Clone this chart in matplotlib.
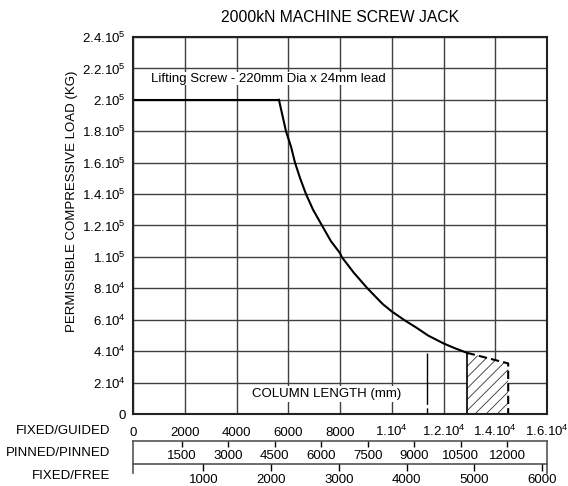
import matplotlib
matplotlib.use("Agg")
import matplotlib.pyplot as plt

plt.rcParams['font.family'] = ['Liberation Sans', 'DejaVu Sans']
plt.rcParams['mathtext.fontset'] = 'custom'
plt.rcParams['mathtext.rm'] = 'Liberation Sans'
plt.rcParams['mathtext.default'] = 'regular'
plt.rcParams['hatch.linewidth'] = 0.6
plt.rcParams['hatch.color'] = '#333333'

# Data
# flat screw limit then buckling curve (column length mm, load kg)
flat_x = [0, 5640]
flat_y = [200000, 200000]
curve_x = [5640, 5913, 6110, 6261, 6460, 6686, 6960, 7304, 7650, 8000, 8066,
           8530, 9060, 9650, 10000, 10512, 10950, 11400, 11992, 12420, 12900]
curve_y = [200000, 180000, 170000, 160000, 150000, 140000, 130000, 120000, 110000,
           102400, 100000, 90000, 80000, 70000, 65300, 59500, 55000, 50000, 45000, 42000, 39000]
# hatched zone beyond recommended length
hatch_x = [12900, 14500, 14500, 12900]
hatch_y = [39000, 32200, 0, 0]
mark_x = 11350
mark_top = 39000

y_ticks = [0, 20000, 40000, 60000, 80000, 100000, 120000, 140000, 160000, 180000, 200000, 220000, 240000]
y_labels = ['0', '2.10$^4$', '4.10$^4$', '6.10$^4$', '8.10$^4$', '1.10$^5$', '1.2.10$^5$',
            '1.4.10$^5$', '1.6.10$^5$', '1.8.10$^5$', '2.10$^5$', '2.2.10$^5$', '2.4.10$^5$']
guided_ticks = [0, 2000, 4000, 6000, 8000, 10000, 12000, 14000, 16000]
guided_labels = ['0', '2000', '4000', '6000', '8000', '1.10$^4$', '1.2.10$^4$', '1.4.10$^4$', '1.6.10$^4$']
pinned_ticks = [1500, 3000, 4500, 6000, 7500, 9000, 10500, 12000]
free_ticks = [1000, 2000, 3000, 4000, 5000, 6000]

W, H = 568, 486
fig = plt.figure(figsize=(W / 100, H / 100), dpi=100)

def box(l, t, r, b):
    return [l / W, 1 - b / H, (r - l) / W, (b - t) / H]

ax = fig.add_axes(box(133, 37, 547, 414))
ax.set_xlim(0, 16000)
ax.set_ylim(0, 240000)
ax.set_xticks(guided_ticks)
ax.set_xticklabels(guided_labels)
ax.set_yticks(y_ticks)
ax.set_yticklabels(y_labels)
ax.tick_params(length=0, labelsize=9.5)
ax.tick_params(axis='x', pad=15.5)
ax.tick_params(axis='y', pad=5)
for lab in ax.get_xticklabels():
    lab.set_va('baseline')
ax.grid(True, color='#404040', lw=1.0)
ax.set_axisbelow(True)
for s in ax.spines.values():
    s.set_linewidth(1.5)
    s.set_color('#222222')

ax.plot(flat_x, flat_y, color='black', lw=1.5)
ax.plot(curve_x, curve_y, color='black', lw=1.5)
ax.fill(hatch_x, hatch_y, facecolor='white', edgecolor='#333333', hatch='///', lw=0)
ax.plot(hatch_x[:3], hatch_y[:3], color='black', lw=1.5, ls=(0, (4, 2)))
ax.plot([hatch_x[0], hatch_x[3]], [hatch_y[0], hatch_y[3]], color='black', lw=1.2)
ax.plot([mark_x, mark_x], [mark_top, 0], color='black', lw=1.0, ls=(0, (37, 2.5)))

ax.text(700, 213500, 'Lifting Screw - 220mm Dia x 24mm lead', fontsize=9.5, va='center',
        bbox=dict(facecolor='white', edgecolor='none', pad=0.5))
ax.text(7480, 12500, 'COLUMN LENGTH (mm)', fontsize=9.5, ha='center', va='center',
        bbox=dict(facecolor='white', edgecolor='none', pad=1.5))

ax.set_title('2000kN MACHINE SCREW JACK', fontsize=11.3, pad=11)
fig.text(72 / W, 1 - 201 / H, 'PERMISSIBLE COMPRESSIVE LOAD (KG)', rotation=90,
         ha='center', va='center', fontsize=9.5)

# pinned/pinned scale
axp = fig.add_axes(box(133, 440.7, 547, 464))
axp.set_xlim(-73, 13288)
axp.set_ylim(0, 1)
axp.set_yticks([])
axp.xaxis.tick_top()
axp.set_xticks(pinned_ticks)
axp.tick_params(axis='x', direction='in', length=4, labeltop=False, width=1)
for v in pinned_ticks:
    axp.text(v, 0.36, str(v), ha='center', va='center', fontsize=9.5,
             transform=axp.get_xaxis_transform())
for s in axp.spines.values():
    s.set_color('#555555')
    s.set_linewidth(1.2)
axp.patch.set_alpha(0)

# fixed/free scale
axf = fig.add_axes(box(133, 464, 547, 473))
axf.set_xlim(-38, 6073)
axf.set_ylim(0, 1)
axf.set_yticks([])
axf.set_xticks(free_ticks)
axf.tick_params(axis='x', top=True, bottom=False, labelbottom=True, direction='in',
                length=5, width=1, pad=0.5, labelsize=9.5)
axf.spines['bottom'].set_visible(False)
axf.spines['top'].set_visible(False)
for s in axf.spines.values():
    s.set_color('#555555')
    s.set_linewidth(1.2)
axf.patch.set_alpha(0)

fig.text(110 / W, 1 - 431 / H, 'FIXED/GUIDED', ha='right', va='center', fontsize=9.5)
fig.text(110 / W, 1 - 453 / H, 'PINNED/PINNED', ha='right', va='center', fontsize=9.5)
fig.text(110 / W, 1 - 476 / H, 'FIXED/FREE', ha='right', va='center', fontsize=9.5)

fig.savefig('out.png', dpi=100)
